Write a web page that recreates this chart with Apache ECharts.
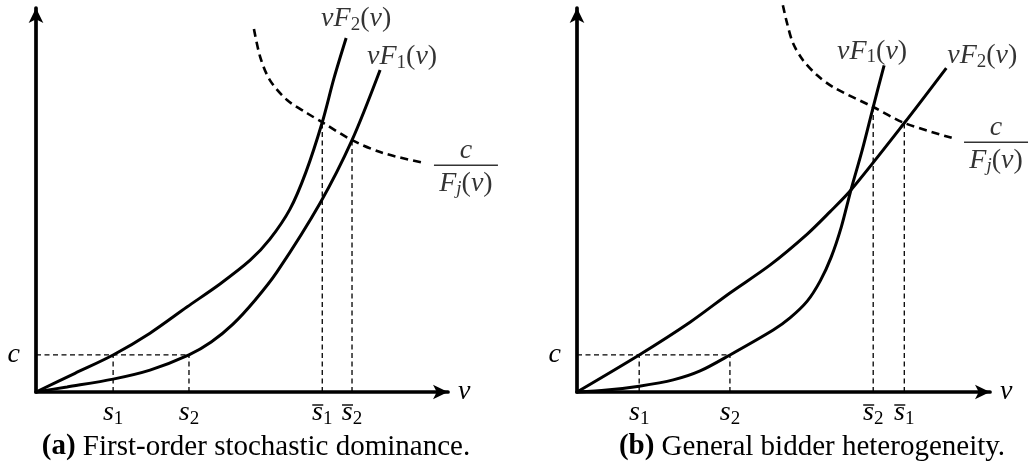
<!DOCTYPE html>
<html>
<head>
<meta charset="utf-8">
<script src="https://cdn.jsdelivr.net/npm/echarts@6/dist/echarts.min.js"></script>
<style>
  html, body { margin: 0; padding: 0; background: #fff; }
  #chart { width: 1029px; height: 469px; }
</style>
</head>
<body>
<div id="chart"></div>
<script>
// Entry cost level c (same in both panels)
const cLevel = 0.95;

// Panel (a): first-order stochastic dominance
const aF1 = [[0, 0], [0.74, 0.13], [1.84, 0.33], [2.72, 0.56], [3.65, 0.95], [4.18, 1.28], [4.70, 1.74], [5.23, 2.36], [5.75, 3.08], [6.78, 4.85], [7.54, 6.46], [8.21, 8.26]];
const aF2 = [[0, 0], [0.93, 0.48], [1.84, 0.95], [2.72, 1.51], [3.60, 2.18], [4.39, 2.77], [5.11, 3.38], [5.58, 3.92], [6.06, 4.69], [6.44, 5.64], [6.83, 6.92], [7.11, 8.05], [7.40, 9.08]];
const aCost = [[5.20, 9.31], [5.35, 8.59], [5.58, 8.00], [5.99, 7.49], [6.47, 7.15], [6.83, 6.92], [7.54, 6.46], [8.28, 6.13], [9.28, 5.87]];
const aLow = [1.84, 3.65];      // s1, s2
const aHigh = [6.83, 7.54];     // s̄1, s̄2
const aTickValues = [1.84, 3.65, 6.83, 7.54];
const aTickSubs = ['1', '2', '1', '2'];
const aTickBars = [false, false, true, true];

// Panel (b): general bidder heterogeneity
const bF1 = [[0, 0], [0.71, 0.05], [1.48, 0.15], [2.29, 0.31], [2.93, 0.54], [3.64, 0.95], [4.67, 1.59], [5.07, 1.90], [5.48, 2.33], [5.79, 2.85], [6.05, 3.46], [6.29, 4.23], [6.52, 5.18], [6.79, 6.21], [7.05, 7.31], [7.31, 8.38]];
const bF2 = [[0, 0], [1.48, 0.95], [2.69, 1.79], [3.64, 2.54], [4.60, 3.26], [5.48, 4.05], [6.02, 4.62], [6.52, 5.18], [7.79, 6.90], [8.79, 8.31]];
const bCost = [[4.90, 9.92], [5.00, 9.46], [5.14, 8.95], [5.38, 8.51], [5.71, 8.13], [6.10, 7.82], [7.05, 7.31], [7.79, 6.90], [8.95, 6.51]];
const bLow = [1.48, 3.64];      // s1, s2
const bHigh = [7.05, 7.79];     // s̄2, s̄1
const bTickValues = [1.48, 3.64, 7.05, 7.79];
const bTickSubs = ['1', '2', '2', '1'];
const bTickBars = [false, false, true, true];

const captionTags = ['(a)', '(b)'];
const captionTexts = ['First-order stochastic dominance.', 'General bidder heterogeneity.'];

const XMAX = 9.83, YMAX = 9.85;
const FONT = "'Liberation Serif', 'DejaVu Serif', serif";
const INK = '#000';

const mathRich = {
  i:   { fontFamily: FONT, fontStyle: 'italic', fontSize: 28, color: INK, lineHeight: 30 },
  r:   { fontFamily: FONT, fontSize: 28, color: INK, lineHeight: 30 },
  sub: { fontFamily: FONT, fontSize: 19, color: INK, lineHeight: 30, padding: [12, 0, 0, 0] },
  si:  { fontFamily: FONT, fontStyle: 'italic', fontSize: 19, color: INK, lineHeight: 30, padding: [12, 0, 0, 0] },
  fn:  { fontFamily: FONT, fontStyle: 'italic', fontSize: 28, color: INK, lineHeight: 24 },
  fbar:{ width: 64, height: 1.5, backgroundColor: INK, lineHeight: 6 }
};

const tickRich = {
  s:   { fontFamily: FONT, fontStyle: 'italic', fontSize: 28, color: INK, lineHeight: 12 },
  ss:  { fontFamily: FONT, fontSize: 19, color: INK, lineHeight: 12, padding: [12, 0, 0, 0] },
  ob:  { width: 11, height: 1.4, backgroundColor: INK, lineHeight: 4 },
  obn: { width: 11, height: 1.4, lineHeight: 4 },
  obs: { width: 9, height: 1.4, lineHeight: 4 },
  c:   { fontFamily: FONT, fontStyle: 'italic', fontSize: 28, color: INK }
};

const yOn = (curve, x) => curve.find(p => p[0] === x)[1];

function tickFormatter(values, subs, bars) {
  return function (val) {
    let k = 0;
    values.forEach((v, j) => { if (Math.abs(v - val) < Math.abs(values[k] - val)) k = j; });
    return (bars[k] ? '{ob|}' : '{obn|}') + '{obs|}\n{s|s}{ss|' + subs[k] + '}';
  };
}

function axesFor(idx, tickValues, tickSubs, tickBars) {
  const line = { show: true, onZero: false, symbol: ['none', 'arrow'], symbolSize: [11, 15],
                 lineStyle: { color: INK, width: 3.7 } };
  return {
    x: {
      type: 'value', gridIndex: idx, min: 0, max: XMAX,
      axisLine: line, axisTick: { show: false }, splitLine: { show: false },
      axisLabel: { customValues: tickValues, formatter: tickFormatter(tickValues, tickSubs, tickBars),
                   margin: 11, rich: tickRich },
      name: 'v', nameLocation: 'end', nameGap: 10,
      nameTextStyle: { fontFamily: FONT, fontStyle: 'italic', fontSize: 28, color: INK, padding: [24, 0, 0, 0] }
    },
    y: {
      type: 'value', gridIndex: idx, min: 0, max: YMAX,
      axisLine: line, axisTick: { show: false }, splitLine: { show: false },
      axisLabel: { customValues: [cLevel], formatter: () => '{c|c}', margin: 16, rich: tickRich }
    }
  };
}

function guide(idx, pts) {
  return { type: 'line', xAxisIndex: idx, yAxisIndex: idx, data: pts, symbol: 'none', silent: true,
           clip: false, z: 2, lineStyle: { color: INK, width: 1.3, type: [5, 3.5] } };
}

function curve(idx, pts, dashed) {
  return { type: 'line', xAxisIndex: idx, yAxisIndex: idx, data: pts, symbol: 'none', silent: true,
           clip: false, smooth: 0.3, z: 3,
           lineStyle: dashed ? { color: INK, width: 2.6, type: [8, 5] } : { color: INK, width: 3 } };
}

function label(idx, pt, text, offset) {
  return { type: 'scatter', xAxisIndex: idx, yAxisIndex: idx, data: [pt], symbolSize: 1, silent: true,
           clip: false, z: 4, itemStyle: { color: 'rgba(0,0,0,0)' },
           label: { show: true, position: 'inside', offset: offset, formatter: text, rich: mathRich } };
}

const fracText = '{fn|c}\n{fbar|}\n{i|F}{si|j}{r|(}{i|v}{r|)}';
const vF = n => '{i|vF}{sub|' + n + '}{r|(}{i|v}{r|)}';

function panel(idx, F1, F2, cost, low, high) {
  const s = [];
  s.push(guide(idx, [[0, cLevel], [Math.max(...low), cLevel]]));
  low.forEach(x => s.push(guide(idx, [[x, 0], [x, cLevel]])));
  high.forEach(x => s.push(guide(idx, [[x, 0], [x, yOn(cost, x)]])));
  s.push(curve(idx, F1, false));
  s.push(curve(idx, F2, false));
  s.push(curve(idx, cost, true));
  return s;
}

const axA = axesFor(0, aTickValues, aTickSubs, aTickBars);
const axB = axesFor(1, bTickValues, bTickSubs, bTickBars);

const series = [].concat(
  panel(0, aF1, aF2, aCost, aLow, aHigh),
  panel(1, bF1, bF2, bCost, bLow, bHigh),
  [
    label(0, aF2[aF2.length - 1], vF('2'), [10, -19]),
    label(0, aF1[aF1.length - 1], vF('1'), [22, -13]),
    label(0, aCost[aCost.length - 1], fracText, [41, 5]),
    label(1, bF1[bF1.length - 1], vF('1'), [-12, -14]),
    label(1, bF2[bF2.length - 1], vF('2'), [36, -12]),
    label(1, bCost[bCost.length - 1], fracText, [43, 7])
  ]
);

const captionX = [256, 812];
const graphic = captionTags.map((tag, k) => ({
  type: 'text', x: captionX[k], y: 447, silent: true,
  style: {
    text: '{b|' + tag + '} ' + captionTexts[k],
    fontFamily: FONT, fontSize: 29, fill: INK,
    align: 'center', verticalAlign: 'middle',
    rich: { b: { fontFamily: FONT, fontSize: 29, fontWeight: 'bold', color: INK } }
  }
}));

const chart = echarts.init(document.getElementById('chart'), null, { renderer: 'canvas' });
chart.setOption({
  animation: false,
  backgroundColor: '#fff',
  grid: [
    { left: 36, top: 8, width: 412, height: 384 },
    { left: 577, top: 8, width: 413, height: 384 }
  ],
  xAxis: [axA.x, axB.x],
  yAxis: [axA.y, axB.y],
  series: series,
  graphic: graphic
});
</script>
</body>
</html>
